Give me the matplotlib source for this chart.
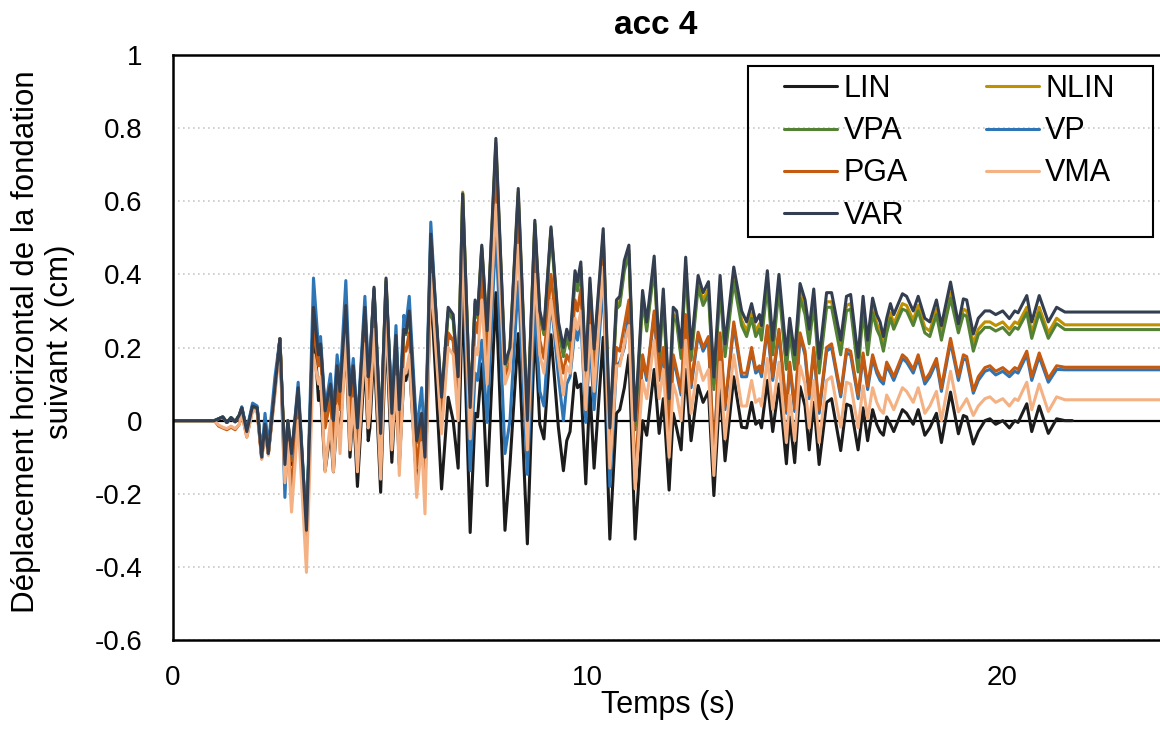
import numpy as np
import matplotlib
matplotlib.use("Agg")
import matplotlib.pyplot as plt
from matplotlib.patches import Rectangle

plt.rcParams['font.family'] = ['Liberation Sans', 'DejaVu Sans']

title = "acc 4"
xlabel = "Temps (s)"
ylabel = "Déplacement horizontal de la fondation\nsuivant x (cm)"
series_names = ["LIN", "NLIN", "VPA", "VP", "PGA", "VMA", "VAR"]
series_colors = ["#1c1c1c", "#bf9000", "#548235", "#2e75b6", "#c55a11", "#f4b183", "#333f50"]

time_s = [0.0, 1.0, 1.1, 1.2, 1.3, 1.4, 1.5, 1.6, 1.66, 1.78, 1.92, 2.03, 2.14, 2.22, 2.30, 2.46, 2.58,
          2.70, 2.77, 2.86, 3.02, 3.22, 3.39, 3.51, 3.56, 3.67, 3.80, 3.87, 3.96, 4.03, 4.17, 4.27, 4.35,
          4.45, 4.63, 4.71, 4.75, 4.85, 5.01, 5.14, 5.28, 5.38, 5.46, 5.57, 5.62, 5.70, 5.88, 6.00, 6.08,
          6.22, 6.48, 6.64, 6.76, 6.88, 6.99, 7.17, 7.29, 7.35, 7.45, 7.58, 7.79, 8.01, 8.13, 8.33, 8.55,
          8.73, 8.85, 8.95, 9.12, 9.30, 9.42, 9.50, 9.58, 9.70, 9.76, 9.84, 9.96, 10.06, 10.16, 10.38,
          10.54, 10.70, 10.78, 10.89, 11.00, 11.15, 11.33, 11.43, 11.61, 11.73, 11.83, 11.97, 12.07, 12.15,
          12.26, 12.37, 12.50, 12.67, 12.79, 12.92, 13.05, 13.20, 13.32, 13.53, 13.72, 13.84, 13.96, 14.06,
          14.15, 14.20, 14.34, 14.47, 14.62, 14.80, 14.88, 15.00, 15.13, 15.25, 15.35, 15.46, 15.59, 15.77,
          15.89, 16.11, 16.25, 16.35, 16.53, 16.65, 16.76, 16.88, 16.98, 17.06, 17.14, 17.22, 17.31, 17.39,
          17.60, 17.70, 17.86, 17.98, 18.14, 18.26, 18.42, 18.54, 18.76, 18.95, 19.07, 19.15, 19.31, 19.43,
          19.59, 19.71, 19.85, 20.02, 20.18, 20.31, 20.39, 20.60, 20.72, 20.90, 21.12, 21.32, 21.52, 21.70,
          24.5]

LIN = [0, 0, 0.005, 0.01, -0.005, 0.008, -0.003, 0.015, 0.035, -0.03, 0.04, 0.035, -0.10, -0.01, -0.09, 0.09, 0.224,
       -0.13, -0.01, -0.12, 0.05, -0.30, 0.28, 0.055, 0.08, -0.137, -0.03, -0.14, 0.02, -0.04, 0.22, -0.10, 0.04,
       -0.18, 0.17, -0.055, -0.02, 0.20, -0.196, 0.25, -0.114, 0.10, -0.12, 0.12, 0.11, 0.16, -0.17, -0.05, -0.18,
       0.37, -0.187, 0.064, 0.0, -0.13, 0.356, -0.306, 0.02, 0.01, 0.155, -0.178, 0.35, -0.30, -0.12, 0.238, -0.337,
       0.26, -0.01, -0.05, 0.235, -0.02, -0.137, -0.055, -0.03, 0.13, 0.09, 0.10, -0.173, 0.09, -0.13, 0.228,
       -0.324, 0.02, 0.03, 0.09, 0.18, -0.324, 0.0, -0.04, 0.14, -0.035, 0.06, -0.19, 0.02, -0.02,
       -0.08, 0.14, -0.055, 0.096, 0.05, 0.08, -0.205, 0.093, -0.11, 0.12, -0.018, -0.02, 0.05, -0.01,
       0.0, -0.02, 0.11, -0.03, 0.10, -0.118, 0.01, -0.115, 0.093, 0.04, -0.08, 0.05, -0.12, 0.05,
       0.06, -0.082, 0.045, 0.04, -0.08, 0.035, -0.055, 0.03, -0.01, -0.03, -0.04, 0.01, -0.01, -0.03,
       0.03, 0.02, -0.01, 0.03, -0.04, -0.02, 0.02, -0.06, 0.078, -0.036, 0.014, 0.01, -0.064, -0.03,
       0.0, 0.005, -0.01, 0.0, -0.02, 0.0, -0.005, 0.046, -0.03, 0.04, -0.035, 0.005, 0.0, 0.0,
       np.nan]

NLIN = [0, 0, 0.005, 0.01, -0.005, 0.008, -0.003, 0.015, 0.035, -0.03, 0.04, 0.035, -0.10, -0.01, -0.09, 0.09, 0.224,
        -0.13, 0.0, -0.10, 0.085, -0.30, 0.31, 0.18, 0.21, 0.027, 0.10, 0.0, 0.15, 0.08, 0.31, 0.07, 0.15,
        -0.02, 0.31, 0.12, 0.16, 0.36, -0.035, 0.385, 0.02, 0.23, 0.03, 0.25, 0.24, 0.30, -0.055, 0.02, -0.10,
        0.50, 0.06, 0.30, 0.28, 0.115, 0.625, 0.03, 0.325, 0.285, 0.475, 0.24, 0.76, 0.15, 0.195, 0.625, -0.005,
        0.54, 0.29, 0.24, 0.525, 0.26, 0.185, 0.235, 0.205, 0.395, 0.365, 0.42, 0.125, 0.375, 0.18, 0.51,
        -0.035, 0.315, 0.325, 0.42, 0.465, -0.015, 0.34, 0.255, 0.43, 0.17, 0.34, 0.04, 0.29, 0.28,
        0.18, 0.425, 0.175, 0.38, 0.33, 0.36, 0.10, 0.375, 0.19, 0.395, 0.275, 0.245, 0.295, 0.245,
        0.265, 0.235, 0.385, 0.195, 0.375, 0.155, 0.255, 0.155, 0.35, 0.305, 0.225, 0.335, 0.145, 0.325,
        0.325, 0.195, 0.315, 0.32, 0.148, 0.315, 0.195, 0.31, 0.265, 0.245, 0.205, 0.255, 0.295, 0.265,
        0.32, 0.315, 0.275, 0.315, 0.255, 0.245, 0.305, 0.235, 0.35, 0.25, 0.305, 0.30, 0.21, 0.25,
        0.27, 0.27, 0.26, 0.27, 0.25, 0.27, 0.265, 0.31, 0.24, 0.31, 0.24, 0.28, 0.262, 0.262,
        0.262]

VPA = [0, 0, 0.005, 0.01, -0.005, 0.008, -0.003, 0.015, 0.035, -0.03, 0.04, 0.035, -0.10, -0.01, -0.09, 0.09, 0.224,
       -0.14, 0.0, -0.11, 0.08, -0.30, 0.31, 0.17, 0.20, 0.02, 0.095, -0.005, 0.145, 0.075, 0.305, 0.065, 0.145,
       -0.025, 0.30, 0.115, 0.155, 0.355, -0.04, 0.38, 0.015, 0.225, 0.025, 0.245, 0.235, 0.295, -0.06, 0.015, -0.105,
       0.495, 0.055, 0.295, 0.275, 0.11, 0.62, 0.025, 0.32, 0.28, 0.47, 0.235, 0.75, 0.145, 0.19, 0.615, -0.01,
       0.535, 0.285, 0.235, 0.52, 0.25, 0.175, 0.225, 0.195, 0.385, 0.355, 0.41, 0.115, 0.365, 0.17, 0.50,
       -0.045, 0.305, 0.315, 0.41, 0.455, -0.025, 0.33, 0.245, 0.42, 0.16, 0.33, 0.03, 0.28, 0.27,
       0.17, 0.415, 0.165, 0.365, 0.315, 0.345, 0.085, 0.36, 0.175, 0.38, 0.26, 0.23, 0.28, 0.23,
       0.25, 0.22, 0.37, 0.18, 0.36, 0.14, 0.24, 0.14, 0.335, 0.29, 0.21, 0.32, 0.13, 0.31,
       0.31, 0.18, 0.30, 0.305, 0.133, 0.30, 0.18, 0.295, 0.25, 0.23, 0.19, 0.24, 0.28, 0.25,
       0.305, 0.30, 0.26, 0.30, 0.24, 0.23, 0.29, 0.22, 0.335, 0.24, 0.29, 0.285, 0.19, 0.235,
       0.255, 0.255, 0.245, 0.255, 0.235, 0.255, 0.25, 0.295, 0.225, 0.295, 0.225, 0.265, 0.249, 0.249,
       0.249]

VP = [0, 0, 0.005, 0.01, -0.005, 0.008, -0.003, 0.015, 0.038, -0.025, 0.048, 0.04, -0.095, 0.02, -0.07, 0.12, 0.224,
      -0.21, -0.02, -0.10, 0.105, -0.30, 0.39, 0.20, 0.23, 0.03, 0.128, 0.02, 0.18, 0.10, 0.383, 0.08, 0.17,
      -0.01, 0.34, 0.14, 0.17, 0.36, -0.03, 0.37, 0.04, 0.26, 0.03, 0.288, 0.26, 0.34, -0.03, 0.09, -0.08,
      0.543, 0.02, 0.23, 0.22, 0.05, 0.45, -0.137, 0.13, 0.11, 0.22, -0.005, 0.52, -0.09, 0.0, 0.38, -0.147,
      0.32, 0.08, 0.04, 0.33, 0.12, 0.0, 0.10, 0.12, 0.25, 0.22, 0.28, -0.005, 0.22, 0.03, 0.38,
      -0.18, 0.15, 0.16, 0.20, 0.30, -0.17, 0.17, 0.11, 0.29, 0.11, 0.19, -0.04, 0.17, 0.13,
      0.07, 0.28, 0.09, 0.235, 0.19, 0.22, -0.11, 0.23, 0.03, 0.26, 0.12, 0.12, 0.19, 0.13,
      0.14, 0.12, 0.25, 0.11, 0.24, 0.02, 0.15, 0.025, 0.23, 0.18, 0.06, 0.19, 0.02, 0.19,
      0.20, 0.065, 0.185, 0.18, 0.06, 0.175, 0.085, 0.17, 0.13, 0.11, 0.10, 0.15, 0.13, 0.11,
      0.17, 0.16, 0.13, 0.17, 0.10, 0.12, 0.16, 0.08, 0.215, 0.11, 0.17, 0.165, 0.075, 0.11,
      0.135, 0.14, 0.125, 0.135, 0.12, 0.135, 0.13, 0.18, 0.11, 0.175, 0.105, 0.14, 0.139, 0.139,
      0.139]

PGA = [0, 0, -0.015, -0.02, -0.025, -0.018, -0.025, -0.01, 0.02, -0.045, 0.03, 0.025, -0.105, -0.03, -0.09, 0.08, 0.224,
       -0.15, -0.03, -0.20, 0.06, -0.33, 0.26, 0.15, 0.18, -0.02, 0.06, -0.06, 0.10, 0.03, 0.28, 0.0, 0.11,
       -0.08, 0.25, 0.06, 0.09, 0.30, -0.10, 0.33, -0.03, 0.18, -0.06, 0.20, 0.19, 0.24, -0.13, 0.0, -0.16,
       0.47, 0.02, 0.24, 0.22, 0.05, 0.55, -0.02, 0.27, 0.24, 0.40, 0.15, 0.70, 0.12, 0.16, 0.56, -0.05,
       0.45, 0.22, 0.17, 0.40, 0.20, 0.13, 0.18, 0.16, 0.33, 0.30, 0.36, 0.07, 0.30, 0.12, 0.46,
       -0.10, 0.20, 0.19, 0.26, 0.33, -0.16, 0.18, 0.12, 0.30, 0.12, 0.20, -0.03, 0.18, 0.14,
       0.08, 0.29, 0.10, 0.242, 0.20, 0.23, -0.10, 0.24, 0.04, 0.27, 0.13, 0.13, 0.20, 0.14,
       0.15, 0.13, 0.26, 0.12, 0.25, 0.03, 0.16, 0.035, 0.24, 0.19, 0.07, 0.20, 0.03, 0.20,
       0.21, 0.074, 0.195, 0.19, 0.07, 0.185, 0.095, 0.18, 0.14, 0.12, 0.11, 0.16, 0.14, 0.12,
       0.18, 0.17, 0.14, 0.18, 0.11, 0.13, 0.17, 0.09, 0.225, 0.12, 0.18, 0.175, 0.082, 0.12,
       0.145, 0.15, 0.135, 0.145, 0.13, 0.145, 0.14, 0.19, 0.12, 0.185, 0.115, 0.15, 0.146, 0.146,
       0.146]

VMA = [0, 0, -0.012, -0.018, -0.022, -0.015, -0.022, -0.01, 0.02, -0.045, 0.028, 0.025, -0.105, -0.03, -0.095, 0.07, 0.21,
       -0.17, -0.06, -0.25, 0.0, -0.415, 0.18, 0.10, 0.12, -0.14, 0.0, -0.14, 0.04, -0.09, 0.24, -0.08, 0.06,
       -0.14, 0.21, -0.02, 0.02, 0.25, -0.16, 0.29, -0.08, 0.12, -0.15, 0.14, 0.13, 0.18, -0.21, -0.06, -0.255,
       0.40, -0.036, 0.20, 0.18, 0.0, 0.48, -0.05, 0.20, 0.18, 0.33, 0.10, 0.59, 0.10, 0.14, 0.48, -0.08,
       0.40, 0.18, 0.13, 0.33, 0.17, 0.07, 0.15, 0.13, 0.28, 0.25, 0.30, 0.03, 0.26, 0.08, 0.42,
       -0.13, 0.15, 0.15, 0.21, 0.26, -0.187, 0.11, 0.06, 0.22, 0.06, 0.14, -0.10, 0.10, 0.07,
       0.0, 0.22, 0.02, 0.16, 0.11, 0.14, -0.15, 0.16, -0.05, 0.18, 0.04, 0.04, 0.11, 0.05,
       0.06, 0.04, 0.17, 0.03, 0.16, -0.06, 0.07, -0.055, 0.15, 0.10, -0.02, 0.11, -0.06, 0.11,
       0.12, -0.018, 0.105, 0.10, -0.02, 0.095, 0.005, 0.09, 0.05, 0.03, 0.02, 0.07, 0.05, 0.03,
       0.09, 0.08, 0.05, 0.09, 0.02, 0.04, 0.08, 0.0, 0.135, 0.024, 0.045, 0.06, 0.014, 0.04,
       0.06, 0.065, 0.05, 0.06, 0.04, 0.06, 0.055, 0.105, 0.03, 0.10, 0.025, 0.065, 0.057, 0.057,
       0.057]

VAR = [0, 0, 0.005, 0.01, -0.005, 0.008, -0.003, 0.015, 0.035, -0.03, 0.04, 0.035, -0.10, -0.01, -0.09, 0.09, 0.224,
       -0.12, 0.0, -0.09, 0.09, -0.30, 0.31, 0.18, 0.21, 0.027, 0.10, 0.0, 0.15, 0.08, 0.315, 0.07, 0.15,
       -0.02, 0.31, 0.12, 0.16, 0.365, -0.035, 0.39, 0.02, 0.233, 0.03, 0.25, 0.24, 0.30, -0.055, 0.02, -0.10,
       0.51, 0.064, 0.31, 0.29, 0.12, 0.62, 0.036, 0.33, 0.29, 0.48, 0.246, 0.772, 0.155, 0.20, 0.635, 0.0,
       0.548, 0.30, 0.25, 0.53, 0.27, 0.20, 0.25, 0.22, 0.41, 0.38, 0.434, 0.138, 0.39, 0.196, 0.525,
       -0.02, 0.33, 0.34, 0.438, 0.48, 0.0, 0.356, 0.27, 0.45, 0.19, 0.36, 0.06, 0.31, 0.30,
       0.20, 0.447, 0.196, 0.397, 0.35, 0.38, 0.119, 0.397, 0.21, 0.42, 0.30, 0.27, 0.32, 0.27,
       0.29, 0.26, 0.41, 0.22, 0.40, 0.18, 0.28, 0.18, 0.375, 0.33, 0.25, 0.36, 0.17, 0.35,
       0.35, 0.22, 0.34, 0.345, 0.173, 0.34, 0.22, 0.335, 0.29, 0.27, 0.23, 0.28, 0.32, 0.29,
       0.347, 0.34, 0.30, 0.34, 0.28, 0.27, 0.33, 0.26, 0.379, 0.265, 0.333, 0.33, 0.237, 0.28,
       0.30, 0.30, 0.29, 0.30, 0.279, 0.30, 0.295, 0.342, 0.27, 0.342, 0.27, 0.31, 0.297, 0.297,
       0.297]

y_ticks = [-0.6, -0.4, -0.2, 0, 0.2, 0.4, 0.6, 0.8, 1]
y_tick_labels = ["-0.6", "-0.4", "-0.2", "0", "0.2", "0.4", "0.6", "0.8", "1"]
x_ticks = [0, 10, 20]
x_tick_labels = ["0", "10", "20"]

W, H = 1160, 740
fig = plt.figure(figsize=(W / 100, H / 100), dpi=100)
ax = fig.add_axes([173 / W, 100 / H, 0.86, 585 / H])

data = [LIN, NLIN, VPA, VP, PGA, VMA, VAR]
handles = []
for name, color, vals in zip(series_names, series_colors, data):
    h, = ax.plot(time_s, vals, color=color, lw=2.2, label=name,
                 solid_joinstyle='round', solid_capstyle='round')
    handles.append(h)

ax.axhline(0, color='black', lw=1.6, zorder=1.5)
ax.set_xlim(0, 24.07)
ax.set_ylim(-0.6, 1.0)
ax.set_yticks(y_ticks)
ax.set_yticklabels(y_tick_labels)
ax.set_xticks(x_ticks)
ax.set_xticklabels(x_tick_labels)
ax.tick_params(axis='y', length=0, labelsize=20, pad=22)
ax.tick_params(axis='x', length=0, labelsize=20, pad=18)
ax.yaxis.grid(True, color='#c8c8c8', linestyle=(0, (1, 2)), lw=1.2)
ax.set_axisbelow(True)
for sp in ['left', 'bottom', 'top']:
    ax.spines[sp].set_linewidth(1.8)
    ax.spines[sp].set_color('black')
ax.spines['right'].set_visible(False)

fig.text(656 / W, 1 - 26 / H, title, fontsize=24, fontweight='bold', ha='center', va='center')
ax.set_xlabel(xlabel, fontsize=22)
ax.xaxis.set_label_coords(0.496, -0.086)
ax.set_ylabel(ylabel, fontsize=22.5, linespacing=1.2)
ax.yaxis.set_label_coords(-0.098, 0.51)

order = [0, 2, 4, 6, 1, 3, 5]
leg = fig.legend([handles[i] for i in order], [series_names[i] for i in order], ncol=2,
                 loc='upper left', bbox_to_anchor=(784 / W, 1 - 74 / H),
                 bbox_transform=fig.transFigure, fontsize=22, frameon=False,
                 handlelength=1.75, handletextpad=0.2, columnspacing=2.55,
                 labelspacing=0.4, borderpad=0, borderaxespad=0)
fig.patches.append(Rectangle((748 / W, 1 - 237 / H), (1153 - 748) / W, (237 - 66) / H,
                             transform=fig.transFigure, fill=False, ec='black', lw=1.5))

fig.savefig("out.png", dpi=100)
